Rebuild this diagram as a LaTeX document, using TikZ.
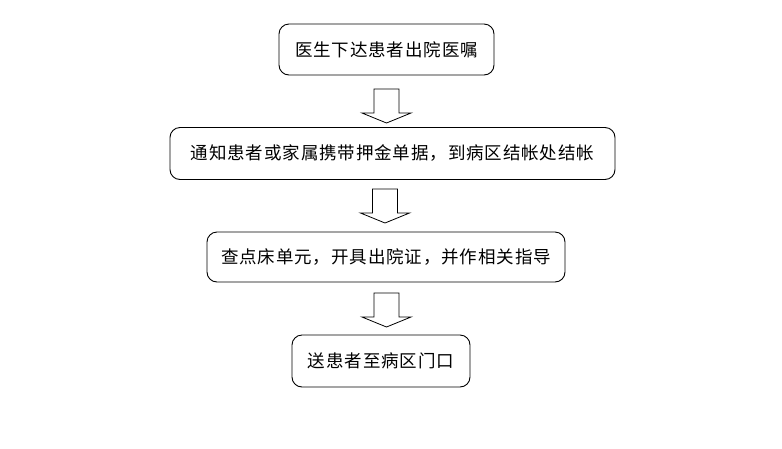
\documentclass[tikz,border=0pt]{standalone}
\usepackage{fontspec}
\newfontfamily\cjk[LetterSpace=5]{Noto Sans CJK SC}
\begin{document}
\begin{tikzpicture}[x=1pt,y=-1pt,
  stepbox/.style={draw=black,line width=0.9pt,rounded corners=10pt,inner sep=0pt,
    font=\cjk\fontsize{17.5}{20}\selectfont,text=black},
  blockarrow/.pic={\draw[line width=0.8pt,fill=white] (-12.5,0) -- (12.5,0) -- (12.5,24) -- (24.5,24) -- (0,34) -- (-24.5,24) -- (-12.5,24) -- cycle;}]
\useasboundingbox (0,0) rectangle (782,448);
\node[stepbox,minimum width=215pt,minimum height=51pt] (b1) at (386.5,49.5) {医生下达患者出院医嘱};
\node[stepbox,minimum width=445pt,minimum height=52pt] (b2) at (392.5,153.5) {通知患者或家属携带押金单据，到病区结帐处结帐};
\node[stepbox,minimum width=358pt,minimum height=50pt] (b3) at (386,257) {查点床单元，开具出院证，并作相关指导};
\node[stepbox,minimum width=178pt,minimum height=52pt] (b4) at (381,361) {送患者至病区门口};
\pic at (386.5,89) {blockarrow};
\pic at (385,189) {blockarrow};
\pic at (386.5,293) {blockarrow};
\end{tikzpicture}
\end{document}
